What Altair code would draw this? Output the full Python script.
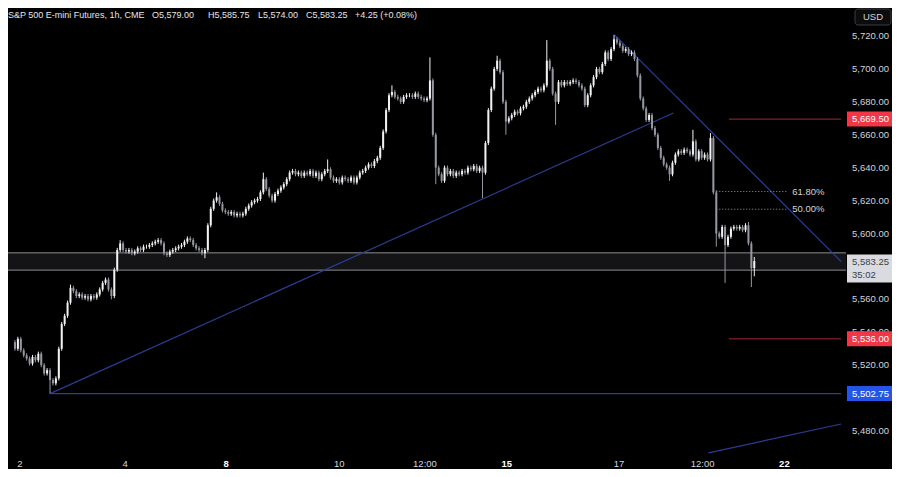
import altair as alt
import pandas as pd

# ---------------- data ----------------
closes = [
    5530, 5536, 5529, 5526, 5524, 5521, 5525, 5523, 5527, 5520,
    5515, 5517, 5511, 5509, 5512, 5530, 5545, 5550, 5558, 5567,
    5565, 5562, 5563, 5561, 5562, 5560, 5562, 5561, 5563, 5566,
    5570, 5572, 5566, 5562, 5578, 5590, 5594, 5590,
    5589, 5590, 5588, 5589, 5591, 5590, 5592, 5592, 5593, 5594, 5595, 5596, 5594, 5588,
    5587, 5589, 5590, 5591, 5592, 5593, 5595, 5597, 5596, 5593, 5591, 5590, 5588, 5590,
    5605, 5615, 5620, 5622, 5618,
    5614, 5613, 5612, 5613, 5611, 5612, 5611, 5612, 5615,
    5617, 5619, 5620, 5621, 5625,
    5633, 5627,
    5623, 5620, 5624, 5626, 5628, 5630,
    5633, 5637, 5638,
    5636, 5637, 5635, 5637, 5636, 5638, 5635, 5637, 5633, 5636, 5638, 5639, 5634, 5632,
    5633, 5631, 5634, 5633, 5632, 5634, 5631, 5634,
    5637, 5638, 5640, 5642, 5641, 5644, 5646,
    5652, 5662, 5675, 5684,
    5686, 5683, 5682, 5680, 5683, 5684, 5684, 5683, 5685, 5683, 5682, 5681, 5682,
    5693, 5660, 5640,
    5636, 5632, 5640, 5636, 5638, 5635, 5637, 5636, 5638, 5637, 5640, 5639, 5641, 5638, 5640, 5637,
    5655, 5675, 5688, 5700, 5705, 5698,
    5680, 5668, 5670,
    5672, 5674, 5673, 5676, 5677, 5680, 5682, 5684, 5686, 5688, 5687, 5690,
    5705, 5700,
    5685, 5680,
    5692, 5690, 5692, 5691, 5692, 5693, 5692, 5690, 5688,
    5678,
    5684, 5690, 5695, 5700, 5698, 5703,
    5710, 5706, 5712, 5718,
    5716, 5714, 5711, 5712, 5709, 5710, 5706,
    5696, 5682, 5676, 5669, 5672, 5664, 5660,
    5652, 5646, 5642, 5640, 5636, 5643,
    5648, 5650, 5649, 5651, 5650, 5648, 5656,
    5645, 5650, 5646, 5648, 5645, 5658,
    5625, 5600, 5598, 5604, 5593, 5598, 5603, 5604, 5603, 5604, 5602, 5605, 5594, 5579, 5583.25,
]
first_open = 5534.0
wick_highs = {19: 5569, 36: 5596, 69: 5625, 85: 5637, 107: 5645, 129: 5690,
              142: 5707, 165: 5708, 182: 5717.5, 205: 5720.5, 232: 5663,
              238: 5661, 251: 5607, 253: 5585.75}
wick_lows = {12: 5502.75, 33: 5560, 65: 5585, 144: 5630, 160: 5621.5,
             168: 5660, 185: 5666, 224: 5632, 240: 5592, 243: 5570,
             252: 5567.5, 253: 5574}

x_tick_pos = [1.7, 37.7, 72.3, 111.0, 140.3, 168.3, 206.7, 235.3, 263.3]
x_tick_labels = ["2", "4", "8", "10", "12:00", "15", "17", "12:00", "22"]
x_tick_strong = [False, False, True, False, False, True, False, False, True]

# visible price-scale labels (5,500 and 5,580 are hidden behind tags in the reference)
y_ticks = [5480, 5520, 5540, 5560, 5600, 5620, 5640, 5660, 5680, 5700, 5720]

zone_low, zone_high = 5577.75, 5588.25

blue_line_ids = ["rise", "rise", "fall", "fall", "low", "low", "base", "base"]
blue_line_i = [12, 225.3, 205, 282.7, 237.3, 282.7, 12, 282.7]
blue_line_p = [5502.75, 5673.2, 5721.0, 5583.0, 5466.7, 5484.3, 5502.75, 5502.75]

red_levels = [5669.50, 5536.00]
red_start, red_end = 244.3, 282.7

fib_levels = [5625.5, 5614.75]
fib_labels = ["61.80%", "50.00%"]
fib_start, fib_end, fib_label_i = 240.0, 264.3, 266.0

tag_prices = [5669.50, 5536.00, 5502.75]
tag_texts = ["5,669.50", "5,536.00", "5,502.75"]
tag_colors = ["#f23645", "#f23645", "#2455e6"]

last_price_text = "5,583.25"
countdown_text = "35:02"

header_parts = ["S&P 500 E-mini Futures, 1h, CME", "O5,579.00", "H5,585.75",
                "L5,574.00", "C5,583.25", "+4.25 (+0.08%)"]

# ---------------- layout / style ----------------
W, H = 838, 445
XMIN, XMAX = -0.67, 282.67
YMIN, YMAX = 5466.66, 5737.0
PT = (YMAX - YMIN) / H          # price units per pixel
FONT = "Liberation Sans"
TXT = "#d1d4dc"
UP, DOWN = "#f2f2f2", "#9598a1"
BLUE = "#2c3c94"
RED = "#a3282f"

xs = alt.Scale(domain=[XMIN, XMAX], nice=False, zero=False)
ys = alt.Scale(domain=[YMIN, YMAX], nice=False, zero=False)

rows = []
prev = first_open
for i, c in enumerate(closes):
    o = prev
    hi = max(wick_highs.get(i, max(o, c) + 1.25), max(o, c))
    lo = min(wick_lows.get(i, min(o, c) - 1.25), min(o, c))
    rows.append(dict(i=i, o=o, c=c, h=hi, l=lo, col=UP if c >= o else DOWN))
    prev = c
candles = pd.DataFrame(rows)

X = lambda f="i:Q": alt.X(f, scale=xs, axis=None)
Y = lambda f: alt.Y(f, scale=ys, axis=None)

# zone
zone_df = pd.DataFrame({"lo": [zone_low], "hi": [zone_high]})
zone = alt.Chart(zone_df).mark_rect(color="#141416").encode(
    x=alt.value(0), x2=alt.value(W), y=Y("hi:Q"), y2="lo:Q")
zone_edges_df = pd.DataFrame({"p": [zone_low, zone_high]})
zone_edges = alt.Chart(zone_edges_df).mark_rule(color="#8d8d8d", strokeWidth=1).encode(
    x=alt.value(0), x2=alt.value(W), y=Y("p:Q"))

# blue trend lines
bl_df = pd.DataFrame({"id": blue_line_ids, "i": blue_line_i, "p": blue_line_p})
blue = alt.Chart(bl_df).mark_line(color=BLUE, strokeWidth=1.2).encode(
    x=X(), y=Y("p:Q"), detail="id:N")

# red levels
red_df = pd.DataFrame({"p": red_levels, "a": red_start, "b": red_end})
red = alt.Chart(red_df).mark_rule(color=RED, strokeWidth=1).encode(
    x=X("a:Q"), x2="b:Q", y=Y("p:Q"))

# fib lines
fib_df = pd.DataFrame({"p": fib_levels, "t": fib_labels, "a": fib_start, "b": fib_end, "li": fib_label_i})
fib = alt.Chart(fib_df).mark_rule(color="#9a9a9a", strokeWidth=1, strokeDash=[1, 2]).encode(
    x=X("a:Q"), x2="b:Q", y=Y("p:Q"))
fib_txt = alt.Chart(fib_df).mark_text(align="left", baseline="middle", font=FONT,
                                      fontSize=9.5, color=TXT).encode(
    x=X("li:Q"), y=Y("p:Q"), text="t:N")

# candles
wicks = alt.Chart(candles).mark_rule(strokeWidth=1).encode(
    x=X(), y=Y("l:Q"), y2="h:Q", color=alt.Color("col:N", scale=None))
bodies = alt.Chart(candles).mark_bar(size=2).encode(
    x=X(), y=Y("o:Q"), y2="c:Q", color=alt.Color("col:N", scale=None))

# price axis labels
yl_df = pd.DataFrame({"p": y_ticks, "t": [f"{v:,.2f}" for v in y_ticks]})
y_labels = alt.Chart(yl_df).mark_text(align="left", baseline="middle", font=FONT,
                                      fontSize=9.5, color=TXT).encode(
    x=alt.value(W + 6), y=Y("p:Q"), text="t:N")

# x axis labels
xt_df = pd.DataFrame({"i": x_tick_pos, "t": x_tick_labels, "s": x_tick_strong})
xt_norm = alt.Chart(xt_df[~xt_df.s]).mark_text(font=FONT, fontSize=9.5, color=TXT,
                                               baseline="middle").encode(
    x=X(), y=alt.value(H + 11), text="t:N")
xt_bold = alt.Chart(xt_df[xt_df.s]).mark_text(font=FONT, fontSize=9.5, color="#ffffff",
                                              fontWeight="bold", baseline="middle").encode(
    x=X(), y=alt.value(H + 11), text="t:N")

# price tags on the axis
tag_df = pd.DataFrame({"p": tag_prices, "t": tag_texts, "col": tag_colors})
tag_df["lo"] = tag_df.p - 7.5 * PT
tag_df["hi"] = tag_df.p + 7.5 * PT
tags = alt.Chart(tag_df).mark_rect().encode(
    x=alt.value(W + 1), x2=alt.value(W + 46), y=Y("lo:Q"), y2="hi:Q",
    color=alt.Color("col:N", scale=None))
tag_txt = alt.Chart(tag_df).mark_text(align="left", baseline="middle", font=FONT,
                                      fontSize=9.5, color="#ffffff").encode(
    x=alt.value(W + 6), y=Y("p:Q"), text="t:N")

# last price tag
lp_df = pd.DataFrame({"lo": [5570.3], "hi": [5587.2]})
lp_box = alt.Chart(lp_df).mark_rect(color="#d9dbe0").encode(
    x=alt.value(W + 1), x2=alt.value(W + 46), y=Y("lo:Q"), y2="hi:Q")
lp_txt_df = pd.DataFrame({"t": [last_price_text, countdown_text], "p": [5582.6, 5574.6]})
lp_txt = alt.Chart(lp_txt_df).mark_text(align="left", baseline="middle", font=FONT,
                                        fontSize=9.5, color="#3a3e48").encode(
    x=alt.value(W + 6), y=Y("p:Q"), text="t:N")

# USD box
usd_df = pd.DataFrame({"t": ["USD"]})
usd_box = alt.Chart(usd_df).mark_rect(fill="#0c0c0e", stroke="#3a3d45", strokeWidth=1,
                                      cornerRadius=3).encode(
    x=alt.value(W + 9), x2=alt.value(W + 45), y=alt.value(1), y2=alt.value(17))
usd_txt = alt.Chart(usd_df).mark_text(font=FONT, fontSize=9.5, color=TXT,
                                      baseline="middle").encode(
    x=alt.value(W + 27), y=alt.value(9), text="t:N")

# header
hdr_df = pd.DataFrame({"t": header_parts, "hx": [0, 144, 200, 250, 298, 347]})
hdr = alt.Chart(hdr_df).mark_text(align="left", baseline="middle", font=FONT,
                                  fontSize=9, color="#e6e6e6").encode(
    x=alt.X("hx:Q", scale=None, axis=None), y=alt.value(7), text="t:N")

chart = alt.layer(
    zone, zone_edges, blue, red, fib, fib_txt, wicks, bodies, y_labels,
    xt_norm, xt_bold, lp_box, lp_txt, tags, tag_txt, usd_box, usd_txt, hdr
).properties(
    width=W, height=H,
    padding={"left": 0, "top": 0, "right": 46, "bottom": 16},
    autosize=alt.AutoSizeParams(type="none"),
    background="#000000",
).configure_view(strokeWidth=0)

chart.save("out.html", embed_options={"renderer": "svg", "actions": False})
